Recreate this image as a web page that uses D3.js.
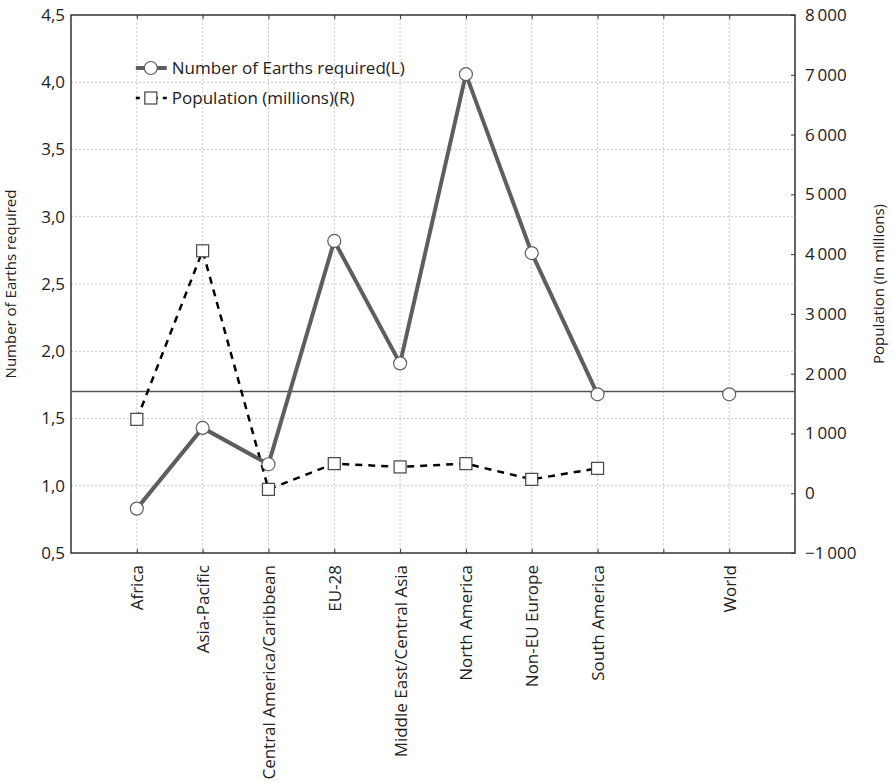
<!DOCTYPE html>
<html>
<head>
<meta charset="utf-8">
<script src="https://cdn.jsdelivr.net/npm/d3@7"></script>
<style>
  body { margin: 0; background: #fff; }
  text { font-family: "Open Sans", "Noto Sans", sans-serif; fill: #222; }
  .grid line { stroke: #c8c8c8; stroke-dasharray: 2,2; }
</style>
</head>
<body>
<div id="chart"></div>
<script>
// categories ("" = empty slot between South America and World)
const categories = ["Africa", "Asia-Pacific", "Central America/Caribbean", "EU-28",
    "Middle East/Central Asia", "North America", "Non-EU Europe", "South America", "", "World"];
const earths = [0.83, 1.43, 1.16, 2.82, 1.91, 4.06, 2.73, 1.68, null, 1.68];
const population = [1236, 4055, 65, 495, 440, 495, 232, 416, null, null];
const earthTicks = [0.5, 1.0, 1.5, 2.0, 2.5, 3.0, 3.5, 4.0, 4.5];
const popTicks = [-1000, 0, 1000, 2000, 3000, 4000, 5000, 6000, 7000, 8000];
const refLine = 1.7;

const margin = {top: 15, right: 97, bottom: 229, left: 71};
const W = 892, H = 782;
const width = W - margin.left - margin.right;
const height = H - margin.top - margin.bottom;

const svg = d3.select("#chart").append("svg")
    .attr("width", W).attr("height", H)
    .append("g")
    .attr("transform", "translate(" + margin.left + "," + margin.top + ")");

const x = d3.scaleLinear().domain([0, categories.length + 1]).range([0, width]);
const idx = d3.range(1, categories.length + 1);
const yL = d3.scaleLinear().domain([0.5, 4.5]).range([height, 0]);
const yR = d3.scaleLinear().domain([-1000, 8000]).range([height, 0]);

// grid
svg.append("g").attr("class", "grid")
    .selectAll("line").data(idx).enter().append("line")
    .attr("x1", d => x(d)).attr("x2", d => x(d))
    .attr("y1", 0).attr("y2", height);
svg.append("g").attr("class", "grid")
    .selectAll("line").data(earthTicks.slice(1, -1)).enter().append("line")
    .attr("x1", 0).attr("x2", width)
    .attr("y1", d => yL(d)).attr("y2", d => yL(d));

// axes
const fmtL = d => d3.format(".1f")(d).replace(".", ",");
const fmtR = d => d3.format(",")(d).replace(/,/g, "\u2009").replace("-", "\u2212");

svg.append("g").attr("class", "y-axis")
    .call(d3.axisLeft(yL).tickValues(earthTicks).tickFormat(fmtL).tickSize(0).tickPadding(6))
    .call(g => g.select(".domain").remove())
    .selectAll("text").style("font-size", "17px");

svg.append("g").attr("class", "y2-axis")
    .attr("transform", "translate(" + width + ",0)")
    .call(d3.axisRight(yR).tickValues(popTicks).tickFormat(fmtR).tickSize(-4).tickPadding(10))
    .call(g => g.select(".domain").remove())
    .call(g => g.selectAll("line").attr("stroke", "#333"))
    .selectAll("text").style("font-size", "17px");

svg.append("g").attr("class", "x-axis")
    .attr("transform", "translate(0," + height + ")")
    .call(d3.axisBottom(x).tickValues(idx).tickFormat((d, i) => categories[i]).tickSize(-4).tickPadding(0))
    .call(g => g.select(".domain").remove())
    .call(g => g.selectAll("line").attr("stroke", "#333"))
    .selectAll("text")
    .style("font-size", "17px")
    .style("text-anchor", "end")
    .attr("dy", "0.35em")
    .attr("transform", "translate(0,12) rotate(-90)")
    .attr("x", 0).attr("y", 0);

svg.append("g").attr("class", "x-top")
    .call(d3.axisTop(x).tickValues(idx).tickFormat("").tickSize(-4))
    .call(g => g.select(".domain").remove())
    .call(g => g.selectAll("line").attr("stroke", "#333"));

// frame
svg.append("rect")
    .attr("width", width).attr("height", height)
    .attr("fill", "none").attr("stroke", "#333").attr("stroke-width", 1.5);

// reference line
svg.append("line")
    .attr("x1", 0).attr("x2", width)
    .attr("y1", yL(refLine)).attr("y2", yL(refLine))
    .attr("stroke", "#555").attr("stroke-width", 1.5);

// population series
const popPts = population.map((v, i) => ({i: i + 1, v: v})).filter(d => d.v !== null);
svg.append("path")
    .datum(popPts)
    .attr("fill", "none").attr("stroke", "#000")
    .attr("stroke-width", 2.5).attr("stroke-dasharray", "7,6")
    .attr("d", d3.line().x(d => x(d.i)).y(d => yR(d.v)));

// earths series
const earthPts = earths.map((v, i) => ({i: i + 1, v: v})).filter(d => d.v !== null);
svg.append("path")
    .datum(earthPts.filter(d => d.i <= 8))
    .attr("fill", "none").attr("stroke", "#5e5e5e")
    .attr("stroke-width", 4)
    .attr("d", d3.line().x(d => x(d.i)).y(d => yL(d.v)));

svg.selectAll(".sq").data(popPts).enter().append("rect")
    .attr("class", "sq")
    .attr("x", d => x(d.i) - 6).attr("y", d => yR(d.v) - 6)
    .attr("width", 12).attr("height", 12)
    .attr("fill", "#fff").attr("stroke", "#444").attr("stroke-width", 1.2);

svg.selectAll(".dot").data(earthPts).enter().append("circle")
    .attr("class", "dot")
    .attr("cx", d => x(d.i)).attr("cy", d => yL(d.v))
    .attr("r", 6.5)
    .attr("fill", "#fff").attr("stroke", "#5e5e5e").attr("stroke-width", 1.2);

// axis titles
svg.append("text")
    .attr("transform", "translate(" + (-55) + "," + (height / 2) + ") rotate(-90)")
    .attr("text-anchor", "middle").style("font-size", "15px")
    .text("Number of Earths required");
svg.append("text")
    .attr("transform", "translate(" + (width + 89) + "," + (height / 2) + ") rotate(-90)")
    .attr("text-anchor", "middle").style("font-size", "15px")
    .text("Population (in millions)");

// legend
const leg = svg.append("g").attr("transform", "translate(" + (x(1) - 1) + ",53)");
leg.append("line").attr("x1", 0).attr("x2", 31).attr("y1", 0).attr("y2", 0)
    .attr("stroke", "#5e5e5e").attr("stroke-width", 4);
leg.append("circle").attr("cx", 15).attr("cy", 0).attr("r", 6.5)
    .attr("fill", "#fff").attr("stroke", "#5e5e5e").attr("stroke-width", 1.2);
leg.append("text").attr("x", 36).attr("y", 0).attr("dy", "0.35em")
    .style("font-size", "17px").text("Number of Earths required(L)");
leg.append("line").attr("x1", 0).attr("x2", 31).attr("y1", 30).attr("y2", 30)
    .attr("stroke", "#000").attr("stroke-width", 2.5).attr("stroke-dasharray", "4,5");
leg.append("rect").attr("x", 9).attr("y", 24).attr("width", 12).attr("height", 12)
    .attr("fill", "#fff").attr("stroke", "#444").attr("stroke-width", 1.2);
leg.append("text").attr("x", 36).attr("y", 30).attr("dy", "0.35em")
    .style("font-size", "17px").text("Population (millions)(R)");
</script>
</body>
</html>
